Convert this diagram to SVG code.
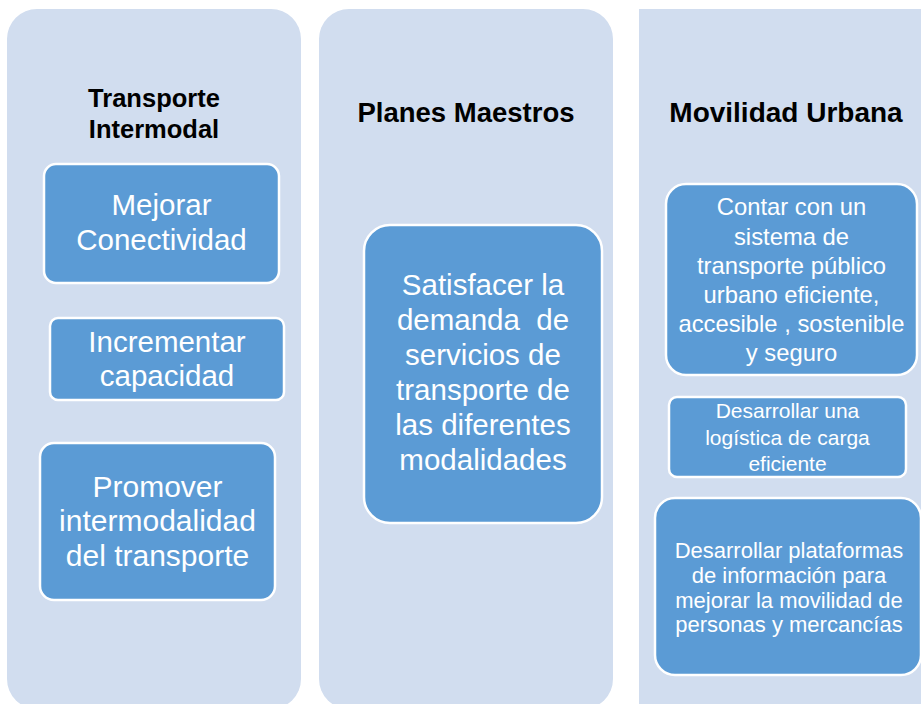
<svg xmlns="http://www.w3.org/2000/svg" width="921" height="704" viewBox="0 0 921 704">
<style>
.col{fill:#D1DDEF;}
.box{fill:#5B9BD5;stroke:#FFFFFF;stroke-width:2.5;}
.hd{font-family:"Liberation Sans",Arial,sans-serif;font-weight:bold;fill:#000000;text-anchor:middle;}
.tx{font-family:"Liberation Sans",Arial,sans-serif;fill:#FFFFFF;text-anchor:middle;}
</style>
<rect width="921" height="704" fill="#FFFFFF"/>
<g id="col-transporte">
<rect class="col" x="7" y="9" width="294" height="700" rx="30"/>
<text class="hd" font-size="25.5" x="154"><tspan x="154" y="107">Transporte</tspan><tspan x="154" y="138">Intermodal</tspan></text>
</g>
<g id="col-planes">
<rect class="col" x="319" y="9" width="294" height="700" rx="30"/>
<text class="hd" font-size="27.5" x="466" y="122">Planes Maestros</text>
</g>
<g id="col-movilidad">
<rect class="col" x="639" y="9" width="290" height="700"/>
<text class="hd" font-size="28" x="786" y="122">Movilidad Urbana</text>
</g>
<g id="n-mejorar">
<rect class="box" x="44" y="164" width="235" height="119" rx="12"/>
<text class="tx" font-size="29.5"><tspan x="161.5" y="215">Mejorar</tspan><tspan x="161.5" y="250">Conectividad</tspan></text>
</g>
<g id="n-incrementar">
<rect class="box" x="50" y="318" width="234" height="82" rx="8"/>
<text class="tx" font-size="29.5"><tspan x="167" y="352">Incrementar</tspan><tspan x="167" y="386">capacidad</tspan></text>
</g>
<g id="n-promover">
<rect class="box" x="40" y="443" width="235" height="157" rx="14"/>
<text class="tx" font-size="30"><tspan x="157.5" y="497">Promover</tspan><tspan x="157.5" y="531">intermodalidad</tspan><tspan x="157.5" y="566">del transporte</tspan></text>
</g>
<g id="n-satisfacer">
<rect class="box" x="364" y="225" width="238" height="298" rx="26"/>
<text class="tx" font-size="29.5" xml:space="preserve"><tspan x="483" y="295">Satisfacer la</tspan><tspan x="483" y="330">demanda  de</tspan><tspan x="483" y="365">servicios de</tspan><tspan x="483" y="400">transporte de</tspan><tspan x="483" y="435">las diferentes</tspan><tspan x="483" y="470">modalidades</tspan></text>
</g>
<g id="n-contar">
<rect class="box" x="666" y="184" width="251" height="191" rx="20"/>
<text class="tx" font-size="23.8"><tspan x="791.5" y="215">Contar con un</tspan><tspan x="791.5" y="245">sistema de</tspan><tspan x="791.5" y="274">transporte público</tspan><tspan x="791.5" y="303">urbano eficiente,</tspan><tspan x="791.5" y="332">accesible , sostenible</tspan><tspan x="791.5" y="361">y seguro</tspan></text>
</g>
<g id="n-logistica">
<rect class="box" x="669" y="397" width="237" height="80" rx="8"/>
<text class="tx" font-size="21"><tspan x="787.5" y="418">Desarrollar una</tspan><tspan x="787.5" y="445">logística de carga</tspan><tspan x="787.5" y="471">eficiente</tspan></text>
</g>
<g id="n-plataformas">
<rect class="box" x="655" y="498" width="266" height="177" rx="20"/>
<text class="tx" font-size="22"><tspan x="789" y="558">Desarrollar plataformas</tspan><tspan x="789" y="583">de información para</tspan><tspan x="789" y="608">mejorar la movilidad de</tspan><tspan x="789" y="632">personas y mercancías</tspan></text>
</g>
<g id="connectors"></g>
</svg>
